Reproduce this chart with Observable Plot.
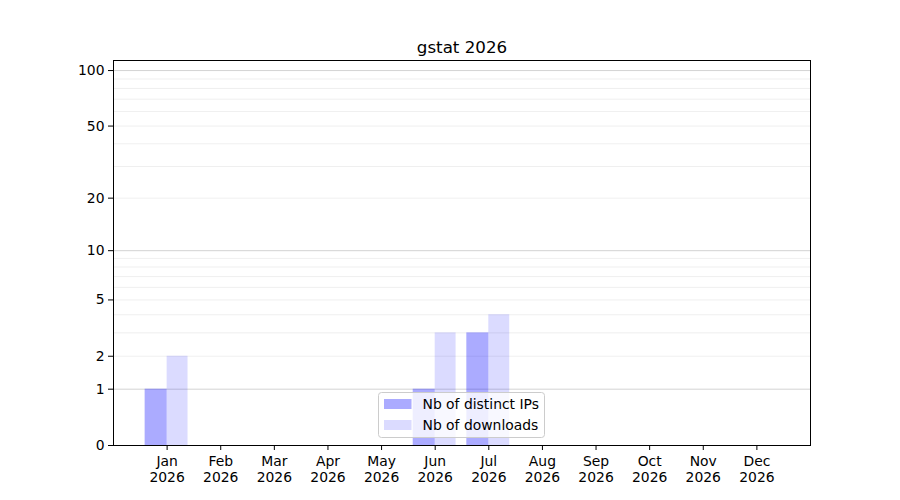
<!DOCTYPE html>
<html>
<head>
<meta charset="utf-8">
<script src="https://cdn.jsdelivr.net/npm/d3@7"></script>
<script src="https://cdn.jsdelivr.net/npm/@observablehq/plot@0.6"></script>
<style>
  html, body { margin: 0; padding: 0; background: white; }
  #chart { width: 900px; height: 500px; }
</style>
</head>
<body>
<div id="chart"></div>
<script>
const title = "gstat 2026";
const months = ["Jan","Feb","Mar","Apr","May","Jun","Jul","Aug","Sep","Oct","Nov","Dec"];
const year = "2026";
const ips = [1,0,0,0,0,1,3,0,0,0,0,0];
const downloads = [2,0,0,0,0,3,4,0,0,0,0,0];
const yTicks = [0,1,2,5,10,20,50,100];
const majorGrid = [1,10,100];
const minorGrid = [2,3,4,5,6,7,8,9,20,30,40,50,60,70,80,90];
const seriesNames = ["Nb of distinct IPs","Nb of downloads"];
const seriesOpacity = [0.33, 0.14];

const data = months.map((m, i) => ({m: i + 1, name: m, ips: ips[i], downloads: downloads[i]}));

const chart = Plot.plot({
  width: 900,
  height: 500,
  marginLeft: 113,
  marginRight: 90,
  marginTop: 60,
  marginBottom: 55,
  style: {fontFamily: "DejaVu Sans", fontSize: "13.9px", background: "white", color: "black"},
  x: {type: "linear", domain: [0, 13]},
  y: {type: "symlog", domain: [0, 113.3]},
  marks: [
    Plot.ruleY(minorGrid, {stroke: "#ebebeb", strokeWidth: 0.8}),
    Plot.ruleY(majorGrid, {stroke: "#c8c8c8", strokeWidth: 0.8}),
    Plot.rectY(data, {x1: d => d.m - 0.41, x2: d => d.m, y1: 0, y2: "ips", fill: "#0000ff", fillOpacity: seriesOpacity[0]}),
    Plot.rectY(data, {x1: d => d.m, x2: d => d.m + 0.39, y1: 0, y2: "downloads", fill: "#0000ff", fillOpacity: seriesOpacity[1]}),
    Plot.axisY({ticks: yTicks, tickSize: 5, tickPadding: 4, tickFormat: d => String(d), label: null}),
    Plot.axisX({ticks: data.map(d => d.m), tickSize: 5, tickPadding: 4, lineHeight: 1.15,
      tickFormat: v => months[v - 1] + "\n" + year, label: null}),
    Plot.frame({stroke: "black", strokeWidth: 1}),
    Plot.text([title], {frameAnchor: "top", lineAnchor: "bottom", dy: -8, fontSize: 16.7, fill: "black"})
  ]
});
document.getElementById("chart").appendChild(chart);

// Legend (inside plot, lower center)
const svg = d3.select(chart);
const g = svg.append("g").attr("font-family", "DejaVu Sans").attr("font-size", "13.9px").attr("text-anchor", "start");
g.append("rect").attr("x", 378.5).attr("y", 392.5).attr("width", 166).attr("height", 45)
  .attr("rx", 3).attr("fill", "white").attr("fill-opacity", 0.8).attr("stroke", "#cccccc");
seriesNames.forEach((name, i) => {
  const y = 399 + i * 21;
  g.append("rect").attr("x", 384).attr("y", y).attr("width", 27.5).attr("height", 10)
    .attr("fill", "#0000ff").attr("fill-opacity", seriesOpacity[i]);
  g.append("text").attr("x", 422.5).attr("y", y + 5).attr("dy", "0.35em").attr("fill", "black")
    .attr("text-anchor", "start").text(name);
});
</script>
</body>
</html>
